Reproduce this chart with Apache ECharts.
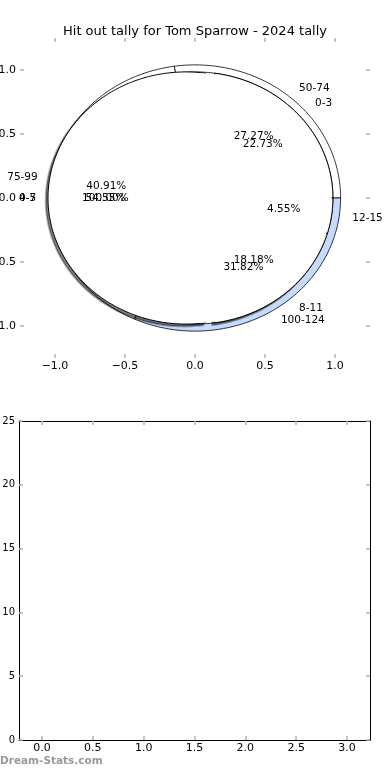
<!DOCTYPE html>
<html><head><meta charset="utf-8">
<script src="https://cdn.jsdelivr.net/npm/echarts@6/dist/echarts.min.js"></script>
<style>html,body{margin:0;padding:0;background:#fff}#c{width:390px;height:780px}</style>
</head><body><div id="c"></div>
<script>
const titleText = 'Hit out tally for Tom Sparrow - 2024 tally';
const watermarkText = 'Dream-Stats.com';
// outer ring pie
const pieBCategories = ['50-74', '75-99', '100-124'];
const pieBValues = [6, 9, 7];
const pieBColors = ['#ffffff', '#ffffff', '#c6dafc'];
// main pie
const pieACategories = ['0-3', '4-7', '8-11', '12-15'];
const pieAValues = [5, 12, 4, 1];
const pieAExplode = [0, 0.065, 0, 0];
// single-slice pie
const pieCCategories = ['0-5'];
const pieCValues = [22];
// tick labels
const pieTicks = [-1, -0.5, 0, 0.5, 1];
const barXTicks = [0, 0.5, 1, 1.5, 2, 2.5, 3];
const barYTicks = [0, 5, 10, 15, 20, 25];

const FONT = '"DejaVu Sans", sans-serif';
const R_A = 0.985, R_B_IN = 0.985, R_B_OUT = 1.04, R_C = 0.976;
const LABEL_R = 1.135, PCT_R = 0.64;

function buildRecords(cats, vals, explode) {
  const total = vals.reduce((a, b) => a + b, 0);
  let acc = 0;
  return cats.map((c, i) => {
    const a0 = acc / total * 360;
    acc += vals[i];
    const a1 = acc / total * 360;
    const mid = (a0 + a1) / 2 * Math.PI / 180;
    const e = explode ? explode[i] : 0;
    return {
      label: c, pct: (vals[i] / total * 100).toFixed(2) + '%',
      a0, a1, mid, cx: e * Math.cos(mid), cy: e * Math.sin(mid), idx: i
    };
  });
}
const recB = buildRecords(pieBCategories, pieBValues, null);
const recA = buildRecords(pieACategories, pieAValues, pieAExplode);
const recC = buildRecords(pieCCategories, pieCValues, null);

function arc(api, cx, cy, r, a0, a1) {
  const n = Math.max(2, Math.ceil((a1 - a0) / 1.0));
  const pts = [];
  for (let k = 0; k <= n; k++) {
    const a = (a0 + (a1 - a0) * k / n) * Math.PI / 180;
    pts.push(api.coord([cx + r * Math.cos(a), cy + r * Math.sin(a)]));
  }
  return pts;
}
function wedgePts(api, rec, r, dx, dy) {
  const cx = rec.cx + (dx || 0), cy = rec.cy + (dy || 0);
  const pts = arc(api, cx, cy, r, rec.a0, rec.a1);
  if (rec.a1 - rec.a0 < 359.99) pts.unshift(api.coord([cx, cy]));
  return pts;
}

function dataOf(recs) { return recs.map((r, i) => [0, 0, i]); }
const base = { type: 'custom', coordinateSystem: 'cartesian2d', xAxisIndex: 0, yAxisIndex: 0, clip: false, silent: true, encode: { x: 0, y: 1 } };

const seriesB = Object.assign({}, base, {
  name: 'ringB', z: 2, data: dataOf(recB),
  renderItem: (p, api) => {
    const rec = recB[p.dataIndex];
    const pts = arc(api, rec.cx, rec.cy, R_B_OUT, rec.a0, rec.a1)
      .concat(arc(api, rec.cx, rec.cy, R_B_IN, rec.a0, rec.a1).reverse());
    return { type: 'polygon', shape: { points: pts }, style: { fill: pieBColors[rec.idx], stroke: '#000', lineWidth: 0.8 } };
  }
});
const seriesAShadow = Object.assign({}, base, {
  name: 'pieAShadow', z: 3, data: dataOf(recA),
  renderItem: (p, api) => {
    const rec = recA[p.dataIndex];
    return { type: 'polygon', shape: { points: wedgePts(api, rec, R_A, -0.016, -0.018) }, style: { fill: 'rgba(0,0,0,0.5)', stroke: 'rgba(0,0,0,0.3)', lineWidth: 2 } };
  }
});
const seriesA = Object.assign({}, base, {
  name: 'pieA', z: 4, data: dataOf(recA),
  renderItem: (p, api) => {
    const rec = recA[p.dataIndex];
    return { type: 'polygon', shape: { points: wedgePts(api, rec, R_A) }, style: { fill: '#fff', stroke: '#000', lineWidth: 1 } };
  }
});
const seriesC = Object.assign({}, base, {
  name: 'pieC', z: 5, data: dataOf(recC),
  renderItem: (p, api) => {
    const rec = recC[p.dataIndex];
    return { type: 'polygon', shape: { points: wedgePts(api, rec, R_C) }, style: { fill: '#fff', stroke: null, lineWidth: 0 } };
  }
});
const textRecs = [];
[recB, recA, recC].forEach(recs => recs.forEach(rec => {
  const lx = LABEL_R * Math.cos(rec.mid), ly = LABEL_R * Math.sin(rec.mid);
  textRecs.push({ text: rec.label, x: lx, y: ly, align: lx > 0 ? 'left' : 'right' });
  textRecs.push({ text: rec.pct, x: PCT_R * Math.cos(rec.mid), y: PCT_R * Math.sin(rec.mid), align: 'center' });
}));
const seriesText = Object.assign({}, base, {
  name: 'texts', z: 10, data: textRecs.map((t, i) => [0, 0, i]),
  renderItem: (p, api) => {
    const t = textRecs[p.dataIndex];
    const pt = api.coord([t.x, t.y]);
    return { type: 'text', x: pt[0], y: pt[1], style: { text: t.text, fill: '#000', font: '10.5px ' + FONT, align: t.align, verticalAlign: 'middle' } };
  }
});

function fmt1(v) { const s = Math.abs(v).toFixed(1); return v < 0 ? '\u2212' + s : s; }
const tickGray = { show: true, inside: true, length: 4, lineStyle: { color: '#b4b4b4', width: 1.5 } };
function pieAxis(pos, showLabel, isX) {
  return {
    type: 'value', gridIndex: 0, position: pos, min: -1.25, max: 1.25,
    axisLine: { show: true, onZero: false, lineStyle: { color: 'rgba(0,0,0,0)', width: 0 } }, splitLine: { show: false },
    axisTick: Object.assign({}, tickGray, { customValues: pieTicks }),
    axisLabel: { show: showLabel, customValues: pieTicks, formatter: fmt1, color: '#000', fontSize: 11, fontFamily: FONT, margin: isX ? 3 : 4 }
  };
}
function barAxis(pos, showLabel, isX) {
  const o = {
    type: 'value', gridIndex: 1, position: pos,
    axisLine: { show: true, onZero: false, lineStyle: { color: '#000', width: 1 } }, splitLine: { show: false },
    axisTick: Object.assign({}, tickGray),
    axisLabel: { show: showLabel, color: '#000', fontSize: isX ? 11 : 10, fontFamily: FONT, margin: isX ? 3 : 4 }
  };
  if (isX) {
    o.min = -0.225; o.max = 3.225;
    o.axisTick.customValues = barXTicks;
    o.axisLabel.customValues = barXTicks;
    o.axisLabel.formatter = v => v.toFixed(1);
  } else {
    o.min = barYTicks[0]; o.max = barYTicks[barYTicks.length - 1]; o.interval = 5;
    o.axisLabel.formatter = v => String(v);
  }
  return o;
}

const chart = echarts.init(document.getElementById('c'), null, { renderer: 'canvas' });
chart.setOption({
  animation: false,
  backgroundColor: '#fff',
  title: { text: titleText, left: 'center', top: 20, textStyle: { fontSize: 13, fontWeight: 'normal', color: '#000', fontFamily: FONT } },
  grid: [
    { left: 20, right: 20, top: 38, bottom: 422, containLabel: false, outerBoundsMode: 'none' },
    { left: 19, right: 20, top: 421, bottom: 40, containLabel: false, outerBoundsMode: 'none' }
  ],
  xAxis: [pieAxis('bottom', true, true), pieAxis('top', false, true), barAxis('bottom', true, true), barAxis('top', false, true)],
  yAxis: [pieAxis('left', true, false), pieAxis('right', false, false), barAxis('left', true, false), barAxis('right', false, false)],
  graphic: [{ type: 'text', left: 0, top: 756, style: { text: watermarkText, fill: '#999', font: 'bold 10.5px ' + FONT } }],
  series: [seriesB, seriesAShadow, seriesA, seriesC, seriesText]
});
</script></body></html>
